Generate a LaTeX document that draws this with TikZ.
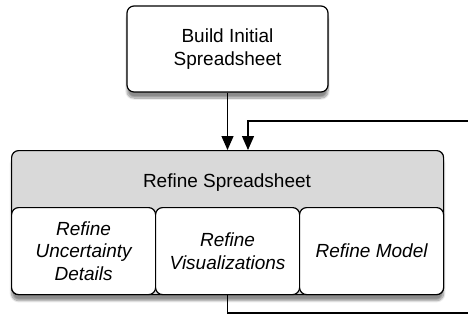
\documentclass[tikz,border=0pt]{standalone}
\usepackage{fontspec}
\setmainfont{Liberation Sans}
\usetikzlibrary{arrows.meta,shadows.blur}

\tikzset{
  base/.style={draw=black, line width=1.2pt, rounded corners=7pt, inner sep=0pt, align=center,
    font=\fontsize{19}{22.5}\selectfont},
  stepbox/.style={base, fill=white},
  groupbox/.style={base, fill=black!15},
  subbox/.style={base, fill=white, font=\fontsize{19}{22.5}\selectfont\itshape},
  flow/.style={line width=1.2pt, -{Triangle[length=14pt,width=12pt]}},
  wire/.style={line width=1.2pt},
  softshadow/.style={blur shadow={shadow xshift=0pt, shadow yshift=-6pt, shadow opacity=45, shadow blur steps=10}}
}

\begin{document}
\begin{tikzpicture}[x=1pt, y=-1pt]
  \useasboundingbox (0,0) rectangle (468,326);

  % top step
  \node[stepbox, softshadow, minimum width=201pt, minimum height=86pt] (build) at (227.5,49)
    {Build Initial\\Spreadsheet};

  % grouped refinement steps
  \node[groupbox, softshadow, anchor=north west, minimum width=432pt, minimum height=144pt] (refine) at (11,150) {};
  \node[font=\fontsize{19}{22.5}\selectfont] (title) at (227,183) {Refine Spreadsheet};

  \node[subbox, anchor=north west, minimum width=144pt, minimum height=87pt] (unc) at (11,207)
    {Refine\\Uncertainty\\Details};
  \node[subbox, anchor=north west, minimum width=144pt, minimum height=87pt] (vis) at (155,207)
    {Refine\\Visualizations};
  \node[subbox, anchor=north west, minimum width=144pt, minimum height=87pt] (model) at (299,207)
    {Refine Model};

  % loop-back ends
  \coordinate (loopin) at (248,150);
  \coordinate (inright) at (468,121);
  \coordinate (outright) at (468,313);

  % connectors
  \draw[flow] (build.south) -- (build.south |- refine.north);
  \draw[flow] (inright) -| (loopin);
  \draw[wire] (vis.south) |- (outright);
\end{tikzpicture}
\end{document}
